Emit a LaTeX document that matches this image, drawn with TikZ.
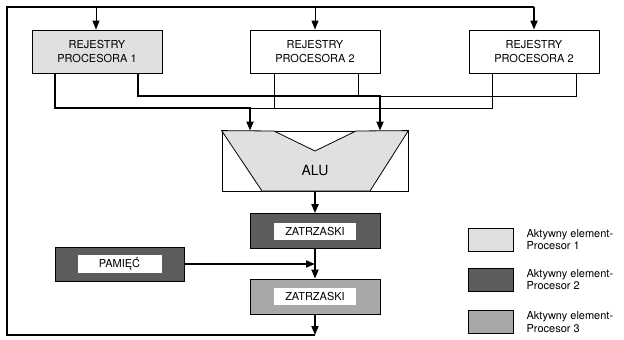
\documentclass[tikz,border=0pt]{standalone}
\usepackage{fontspec}
\setmainfont{TeX Gyre Heros}
\usetikzlibrary{arrows.meta,positioning}
\definecolor{aktyw1}{gray}{0.88}
\definecolor{aktyw2}{gray}{0.36}
\definecolor{aktyw3}{gray}{0.66}

\begin{document}
\begin{tikzpicture}[x=1pt, y=-1pt,
  rejestr/.style={draw, line width=0.8pt, minimum width=130pt, minimum height=43pt, align=center, font=\fontsize{11}{14.5}\selectfont},
  zatrzask/.style={draw, line width=0.8pt, minimum width=130pt, minimum height=35pt},
  napis/.style={fill=white, minimum width=82pt, minimum height=17pt, inner sep=0pt, font=\fontsize{11}{13}\selectfont},
  legenda/.style={draw, line width=0.8pt, minimum width=45pt, minimum height=23pt},
  opis/.style={right=13pt of #1, inner sep=0pt, align=left, font=\fontsize{11}{12.5}\selectfont},
  gruba/.style={line width=1.8pt},
  cienka/.style={line width=0.8pt},
  >={Triangle[length=9pt,width=7pt]}]
\useasboundingbox (0,0) rectangle (624,340);

% rejestry
\node[rejestr, fill=aktyw1] (rej1) at (97,51.5) {REJESTRY\\PROCESORA 1};
\node[rejestr] (rej2) at (315,51.5) {REJESTRY\\PROCESORA 2};
\node[rejestr] (rej3) at (534,51.5) {REJESTRY\\PROCESORA 2};

% ALU
\node[draw, line width=0.8pt, minimum width=186pt, minimum height=60pt] (alu) at (315,161) {};
\filldraw[fill=aktyw1, line width=0.8pt] (alu.north west) -- (274,131) -- (315,151) -- (356,131)
  -- (alu.north east) -- (370,191) -- (262,191) -- cycle;
\node[font=\fontsize{14}{16}\selectfont] (alutxt) at (315,171) {ALU};

% zatrzaski i pamiec
\node[zatrzask, fill=aktyw2] (zat1) at (315,231) {};
\node[napis] at (zat1) {ZATRZASKI};
\node[zatrzask, fill=aktyw3] (zat2) at (315,296.5) {};
\node[napis] at (zat2) {ZATRZASKI};
\node[zatrzask, fill=aktyw2, minimum width=129pt, minimum height=34pt] (pam) at (119.5,264) {};
\node[napis, minimum width=84pt, minimum height=18pt] at (pam) {PAMIĘĆ};

% wejscia ALU
\coordinate (we1) at (250,108);
\coordinate (we2) at (380,96);
\draw[cienka] ([xshift=-41pt]rej2.south) |- (we1);
\draw[cienka] ([xshift=43pt]rej2.south) |- (we2);
\draw[cienka] ([xshift=-42pt]rej3.south) |- (we1);
\draw[cienka] ([xshift=42pt]rej3.south) |- (we2);
\draw[gruba,->] ([xshift=-42pt]rej1.south) |- (we1) -- (we1 |- alu.north);
\draw[gruba,->] ([xshift=41pt]rej1.south) |- (we2) -- (we2 |- alu.north);

% przeplyw w dol
\draw[gruba,->] (alu) -- (zat1);
\draw[gruba,->] (zat1) -- (zat2);
\draw[gruba,->] (pam.east) -- (pam.east -| zat1);

% petla zwrotna
\coordinate (petla) at (315,335);
\coordinate (rog) at (7,7);
\draw[gruba,->] (zat2) -- (petla);
\draw[gruba] (petla) -| (rog) -- (rej3 |- rog);
\draw[gruba,->] (rej3 |- rog) -- (rej3);
\draw[cienka,->] ([xshift=-1pt]rej1.north |- rog) -- ([xshift=-1pt]rej1.north);
\draw[cienka,->] (rej2 |- rog) -- (rej2);

% legenda
\node[legenda, fill=aktyw1] (leg1) at (490.5,239.5) {};
\node[legenda, fill=aktyw2] (leg2) at (490.5,279.5) {};
\node[legenda, fill=aktyw3] (leg3) at (490.5,322) {};
\node[opis=leg1] (opis1) {Aktywny element-\\Procesor 1};
\node[opis=leg2] (opis2) {Aktywny element-\\Procesor 2};
\node[opis=leg3] (opis3) {Aktywny element-\\Procesor 3};
\end{tikzpicture}
\end{document}
